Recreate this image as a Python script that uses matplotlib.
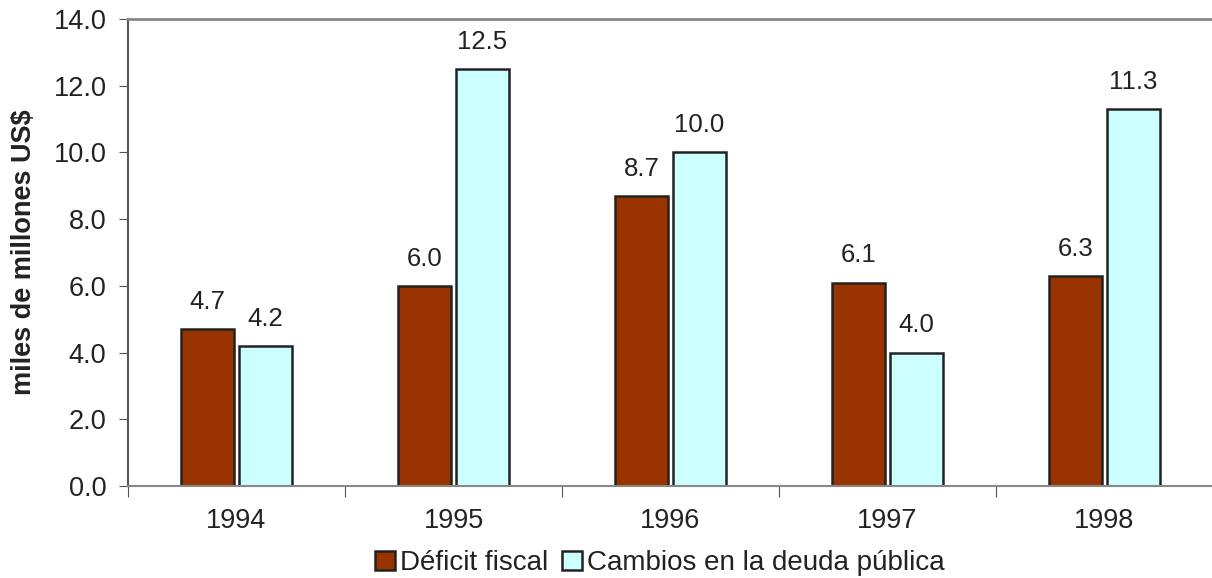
import numpy as np
import matplotlib
matplotlib.use("Agg")
from matplotlib import pyplot as plt

years = ["1994", "1995", "1996", "1997", "1998"]
deficit = [4.7, 6.0, 8.7, 6.1, 6.3]
deuda = [4.2, 12.5, 10.0, 4.0, 11.3]

plt.rcParams['font.family'] = ['Liberation Sans', 'DejaVu Sans']

fig = plt.figure(figsize=(12.12, 5.78), dpi=100)
ax = fig.add_axes([128/1212, 1 - 486/578, 1085/1212, 467/578])

x = np.arange(len(years))
w = 0.244
b1 = ax.bar(x - 0.133, deficit, w, color="#993300", edgecolor="#222222", linewidth=1.8, label="Déficit fiscal")
b2 = ax.bar(x + 0.133, deuda, w, color="#CCFFFF", edgecolor="#222222", linewidth=1.8, label="Cambios en la deuda pública")

for bars, vals in ((b1, deficit), (b2, deuda)):
    for r, v in zip(bars, vals):
        ax.annotate("%.1f" % v, (r.get_x() + r.get_width()/2, v), xytext=(0, 11),
                    textcoords="offset points", ha="center", va="bottom", fontsize=18.5, color="#222222")

ax.set_xlim(-0.5, 4.5)
ax.set_ylim(0, 14)
ax.set_yticks(np.arange(0, 14.1, 2))
ax.set_yticklabels(["%.1f" % v for v in np.arange(0, 14.1, 2)])
ax.set_xticks(np.arange(-0.5, 5, 1), minor=False)
ax.set_xticklabels([])
ax.set_xticks(x, minor=True)
ax.set_xticklabels(years, minor=True)
ax.tick_params(axis="x", which="minor", length=0, pad=16, labelsize=19.5, labelcolor="#222222")
ax.tick_params(axis="x", which="major", length=8, direction="out", color="#555555")
ax.tick_params(axis="y", length=6.5, pad=9, labelsize=19.5, labelcolor="#222222", color="#555555")

ax.spines["right"].set_visible(False)
ax.spines["top"].set_color("#888888")
ax.spines["top"].set_linewidth(2)
ax.spines["left"].set_color("#555555")
ax.spines["left"].set_linewidth(1.5)
ax.spines["bottom"].set_color("#888888")
ax.spines["bottom"].set_linewidth(1.5)

ax.set_ylabel("miles de millones US$", fontsize=19.5, fontweight="bold", color="#222222", labelpad=12)

fig.legend(handles=[b1, b2], loc="center", bbox_to_anchor=(660/1212, 1 - 563/578), ncol=2,
           frameon=False, fontsize=20, handlelength=0.7, handleheight=0.7, handletextpad=0.2,
           columnspacing=0.5, labelcolor="#222222")

fig.savefig("out.png", dpi=100)
